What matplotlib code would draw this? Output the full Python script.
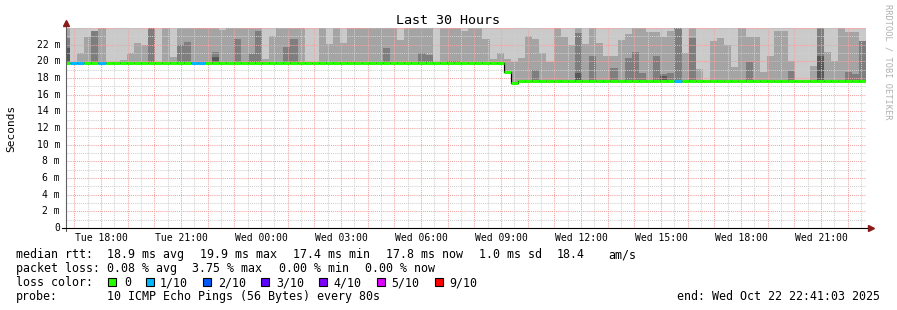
import matplotlib
matplotlib.use('Agg')
import matplotlib.pyplot as plt
from matplotlib.patches import Rectangle
from matplotlib.ticker import MultipleLocator
import numpy as np

W, H = 897, 310
MONO = 'DejaVu Sans Mono'

# time in hours from Tue 00:00, one RRD bin = 960 s
START_H = 16.684      # Tue 16:41:03
END_H = 46.684        # Wed 22:41:03
FIRST_BIN_H = 16.5667
STEP_H = 960 / 3600
Y_MAX = 24.0
TOP = 24.5            # smoke clipped at the top of the canvas

# median rtt per bin (ms)
median_ms = [
    19.8, 19.8, 19.8, 19.8, 19.8, 19.8, 19.8, 19.8, 19.8, 19.8,
    19.8, 19.8, 19.8, 19.8, 19.8, 19.8, 19.8, 19.8, 19.8, 19.8,
    19.8, 19.8, 19.8, 19.8, 19.8, 19.8, 19.8, 19.8, 19.8, 19.8,
    19.8, 19.8, 19.8, 19.8, 19.8, 19.8, 19.8, 19.8, 19.8, 19.8,
    19.8, 19.8, 19.8, 19.8, 19.8, 19.8, 19.8, 19.8, 19.8, 19.8,
    19.8, 19.8, 19.8, 19.8, 19.8, 19.8, 19.8, 19.8, 19.8, 19.8,
    19.8, 19.8, 18.75, 17.35, 17.7, 17.7, 17.7, 17.7, 17.7, 17.7,
    17.7, 17.7, 17.7, 17.7, 17.7, 17.7, 17.7, 17.7, 17.7, 17.7,
    17.7, 17.7, 17.7, 17.7, 17.7, 17.7, 17.7, 17.7, 17.7, 17.7,
    17.7, 17.7, 17.7, 17.7, 17.7, 17.7, 17.7, 17.7, 17.7, 17.7,
    17.7, 17.7, 17.7, 17.7, 17.7, 17.7, 17.7, 17.7, 17.7, 17.7,
    17.7, 17.7, 17.7,
]

# lost pings per bin (index into loss_colors)
loss_idx = [
    0, 1, 1, 0, 0, 1, 0, 0, 0, 0,
    0, 0, 0, 0, 0, 0, 0, 0, 1, 1,
    0, 0, 0, 0, 0, 0, 0, 0, 0, 0,
    0, 0, 0, 0, 0, 0, 0, 0, 0, 0,
    0, 0, 0, 0, 0, 0, 0, 0, 0, 0,
    0, 0, 0, 0, 0, 0, 0, 0, 0, 0,
    0, 0, 0, 0, 0, 0, 0, 0, 0, 0,
    0, 0, 0, 0, 0, 0, 0, 0, 0, 0,
    0, 0, 0, 0, 0, 0, 1, 0, 0, 0,
    0, 0, 0, 0, 0, 0, 0, 0, 0, 0,
    0, 0, 0, 0, 0, 0, 0, 0, 0, 0,
    0, 0, 0,
]

# smoke: top of the 2nd/9th ping band, 3rd/8th band and 4th/7th band (0 = none)
smoke_mid = [
    TOP, 0, 21.06, 22.94, 23.65, TOP, 0, 0, 20.12, 21.06,
    22.24, 21.92, TOP, 0, TOP, 20.47, TOP, TOP, TOP, TOP,
    TOP, TOP, 23.8, TOP, TOP, TOP, TOP, TOP, 20.27, 23.0,
    TOP, TOP, TOP, TOP, 0, 0, TOP, 22.04, TOP, 22.16,
    TOP, TOP, TOP, TOP, TOP, TOP, TOP, 22.55, TOP, TOP,
    TOP, TOP, 0, TOP, TOP, TOP, 23.6, TOP, TOP, 22.7,
    20.27, 21.06, 20.27, 19.88, 20.35, 23.0, 22.7, 21.06, 19.88, TOP,
    22.94, 22.0, TOP, 22.04, TOP, 22.16, 20.59, 20.59, 22.6, 23.3,
    TOP, TOP, 23.5, 23.5, 22.94, 23.7, TOP, 21.06, TOP, 19.1,
    0, 22.4, 22.8, 21.92, 19.3, TOP, 22.94, 22.94, 18.7, 20.67,
    23.6, 23.6, 20.08, 0, 0, 19.5, TOP, 21.14, 20.08, TOP,
    23.5, 23.5, 22.4,
]
smoke_dark = [
    22.8, 0, 0, 0, 23.65, 0, 0, 0, 0, 0,
    0, 0, TOP, 0, 0, 0, 21.96, 22.35, 0, 0,
    0, 21.18, 0, 0, 22.63, 0, 20.94, 23.6, 0, 0,
    0, 21.76, 22.7, 0, 0, 0, 0, 0, 0, 0,
    0, 0, 0, 0, 0, 21.65, 0, 0, 0, 0,
    21.06, 20.75, 0, 0, 20.08, 20.1, 0, 0, 0, 0,
    0, 0, 0, 0, 0, 0, 18.98, 0, 0, 0,
    0, 0, 23.4, 0, 20.59, 0, 0, 19.18, 0, 20.35,
    21.14, 18.6, 0, 20.67, 18.5, 18.6, TOP, 0, 22.75, 0,
    0, 0, 0, 0, 0, 0, 19.88, 0, 0, 0,
    0, 0, 18.9, 0, 0, 0, TOP, 0, 0, 0,
    18.7, 18.5, 22.4,
]
smoke_darker = [
    21.6, 0, 0, 0, 0, 0, 0, 0, 0, 0,
    0, 0, 0, 0, 0, 0, 0, 0, 0, 0,
    0, 20.47, 0, 0, 0, 0, 0, 0, 0, 0,
    0, 0, 0, 0, 0, 0, 0, 0, 0, 0,
    0, 0, 0, 0, 0, 0, 0, 0, 0, 0,
    0, 0, 0, 0, 0, 0, 0, 0, 0, 0,
    0, 0, 0, 0, 0, 0, 0, 0, 0, 0,
    0, 0, 18.6, 0, 0, 0, 0, 0, 0, 0,
    0, 0, 0, 0, 18.2, 0, 0, 0, 0, 0,
    0, 0, 0, 0, 0, 0, 0, 0, 0, 0,
    0, 0, 0, 0, 0, 0, 20.59, 0, 0, 0,
    0, 0, 0,
]

smoke_colors = ['#cacaca', '#a4a4a4', '#7e7e7e', '#585858']
loss_labels = ['0', '1/10', '2/10', '3/10', '4/10', '5/10', '9/10']
loss_colors = ['#26ff00', '#00b8ff', '#0059ff', '#5e00ff', '#7e00ff', '#dd00ff', '#ff0000']
loss_box_x = [108, 146, 203, 261, 319, 377, 435]
loss_text_x = [124, 160, 218, 276, 333, 391, 449]

tick_hours = [18, 21, 24, 27, 30, 33, 36, 39, 42, 45]
tick_labels = ['Tue 18:00', 'Tue 21:00', 'Wed 00:00', 'Wed 03:00', 'Wed 06:00',
               'Wed 09:00', 'Wed 12:00', 'Wed 15:00', 'Wed 18:00', 'Wed 21:00']
y_ticks = [0, 2, 4, 6, 8, 10, 12, 14, 16, 18, 20, 22]
y_labels = ['0', '2 m', '4 m', '6 m', '8 m', '10 m', '12 m', '14 m', '16 m',
            '18 m', '20 m', '22 m']

legend_rows = [
    ('median rtt:', [(107, '18.9 ms avg'), (200, '19.9 ms max'), (293, '17.4 ms min'),
                     (386, '17.8 ms now'), (479, '1.0 ms sd'), (557, '18.4'), (608, 'am/s')]),
    ('packet loss:', [(107, '0.08 % avg'), (192, '3.75 % max'), (279, '0.00 % min'),
                      (365, '0.00 % now')]),
    ('loss color:', []),
    ('probe:', [(107, '10 ICMP Echo Pings (56 Bytes) every 80s')]),
]
legend_baselines = [258, 272, 286, 300]


def fx(x):
    return x / W


def fy(y):
    return 1 - y / H


fig = plt.figure(figsize=(W / 100, H / 100), dpi=100, facecolor='white')
ax = fig.add_axes([fx(66), fy(228), 800 / W, 200 / H])
ax.set_facecolor('white')

med = np.array(median_ms)
n = len(med)
edges = FIRST_BIN_H + STEP_H * np.arange(n + 1)


def ext(a):
    return np.append(a, a[-1])


# smoke, outer band first
layers = [np.full(n, TOP), np.array(smoke_mid), np.array(smoke_dark), np.array(smoke_darker)]
for top, color in zip(layers, smoke_colors):
    upper = np.maximum(top, med)
    ax.fill_between(edges, ext(med), ext(upper), step='post', color=color,
                    linewidth=0, antialiased=False, zorder=1)

# median: thin black step, then coloured band per bin
ax.step(edges, ext(med), where='post', color='black', linewidth=0.9, zorder=3)
ax.hlines(med, edges[:-1], edges[1:], colors=[loss_colors[i] for i in loss_idx],
          linewidth=2.2, zorder=4)

ax.set_xlim(START_H, END_H)
ax.set_ylim(0, Y_MAX)

ax.xaxis.set_major_locator(MultipleLocator(1))
ax.xaxis.set_minor_locator(MultipleLocator(0.5))
ax.yaxis.set_major_locator(MultipleLocator(2))
ax.yaxis.set_minor_locator(MultipleLocator(1))
ax.set_axisbelow(False)
ax.grid(which='minor', color='#d0d0d0', linestyle=(0, (1, 1)), linewidth=0.75)
ax.grid(which='major', color='#f2a4a4', linestyle=(0, (1, 1)), linewidth=0.75)
ax.tick_params(which='both', length=0, labelbottom=False, labelleft=False)

for s in ax.spines.values():
    s.set_visible(False)

for h, lab in zip(tick_hours, tick_labels):
    ax.text(h, -0.05, lab, transform=ax.get_xaxis_transform(), ha='center', va='center',
            family=MONO, fontsize=7)
for v, lab in zip(y_ticks, y_labels):
    ax.text(-0.0075, v, lab, transform=ax.get_yaxis_transform(), ha='right', va='center',
            family=MONO, fontsize=7)

# axes with arrows
fig.add_artist(plt.Line2D([fx(66), fx(66)], [fy(231), fy(24)], color='#606060', linewidth=0.8))
fig.add_artist(plt.Line2D([fx(62), fx(869)], [fy(228), fy(228)], color='black', linewidth=0.8))
fig.add_artist(plt.Line2D([fx(66)], [fy(23)], marker='^', markersize=4, color='#8b1a1a',
                          linewidth=0))
fig.add_artist(plt.Line2D([fx(871)], [fy(228)], marker='>', markersize=4, color='#8b1a1a',
                          linewidth=0))

fig.text(fx(448), fy(24.5), 'Last 30 Hours', ha='center', va='baseline', family=MONO, fontsize=9.6)
fig.text(fx(11), fy(128), 'Seconds', ha='center', va='center', rotation=90, family=MONO,
         fontsize=8)
fig.text(fx(888), fy(4), 'RRDTOOL / TOBI OETIKER', ha='center', va='top', rotation=270,
         family=MONO, fontsize=6.2, color='#b0b0b0')

for (label, parts), base in zip(legend_rows, legend_baselines):
    fig.text(fx(16), fy(base), label, ha='left', va='baseline', family=MONO, fontsize=8.4)
    for x, txt in parts:
        fig.text(fx(x), fy(base), txt, ha='left', va='baseline', family=MONO, fontsize=8.4)

for bx, tx, lab, col in zip(loss_box_x, loss_text_x, loss_labels, loss_colors):
    fig.add_artist(Rectangle((fx(bx), fy(286)), 8 / W, 8 / H, facecolor=col,
                             edgecolor='black', linewidth=0.8))
    fig.text(fx(tx), fy(286), lab, ha='left', va='baseline', family=MONO, fontsize=8.4)

fig.text(fx(880), fy(300), 'end: Wed Oct 22 22:41:03 2025', ha='right', va='baseline',
         family=MONO, fontsize=8.4)

fig.savefig('out.png', dpi=100, facecolor='white')
